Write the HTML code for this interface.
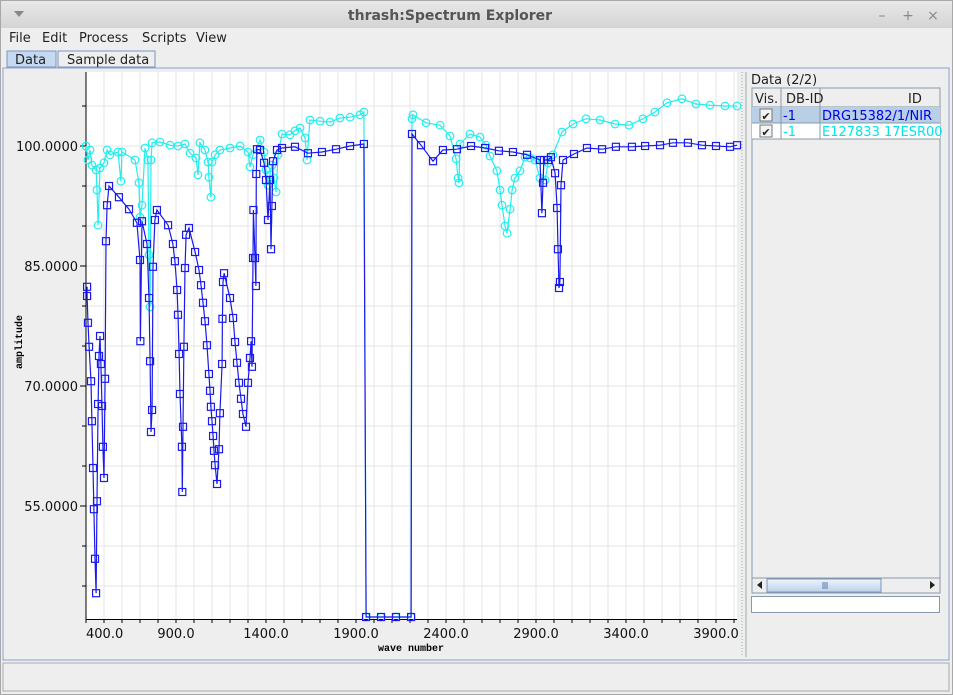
<!DOCTYPE html>
<html><head><meta charset="utf-8"><style>
body{margin:0;width:953px;height:695px;overflow:hidden;background:#eeeeee;font-family:"DejaVu Sans","Liberation Sans",sans-serif;}
svg{display:block}
</style></head><body>
<svg width="953" height="695" viewBox="0 0 953 695" xmlns="http://www.w3.org/2000/svg">
<defs>
<linearGradient id="tb" x1="0" y1="0" x2="0" y2="1"><stop offset="0" stop-color="#e8e8e8"/><stop offset="1" stop-color="#d4d4d4"/></linearGradient>
<linearGradient id="th" x1="0" y1="0" x2="0" y2="1"><stop offset="0" stop-color="#eef4fb"/><stop offset="1" stop-color="#bcd2ea"/></linearGradient>
</defs>
<rect x="0" y="0" width="953" height="695" fill="#a8a8a8"/>
<rect x="1" y="1" width="951" height="693" fill="#eeeeee"/>
<rect x="1" y="1" width="951" height="27" fill="url(#tb)"/>
<polygon points="14,11 24,11 19,17" fill="#888"/>
<text x="450" y="20" text-anchor="middle" font-size="14" font-weight="bold" fill="#555">thrash:Spectrum Explorer</text>
<text x="882" y="20" text-anchor="middle" font-size="14" fill="#888">–</text>
<text x="908" y="20" text-anchor="middle" font-size="14" fill="#888">+</text>
<text x="933" y="20" text-anchor="middle" font-size="14" fill="#888">×</text>
<g font-size="13" fill="#222">
<text x="9" y="42">File</text>
<text x="42" y="42">Edit</text>
<text x="79" y="42">Process</text>
<text x="142" y="42">Scripts</text>
<text x="196" y="42">View</text>
</g>
<rect x="7" y="51" width="49" height="16" fill="#c5daf0" stroke="#7a94c0"/>
<text x="15" y="64" font-size="13" fill="#222">Data</text>
<rect x="58" y="51" width="97" height="16" fill="#eeeeee" stroke="#7a94c0"/>
<text x="67" y="64" font-size="13" fill="#222">Sample data</text>
<rect x="3" y="68" width="946" height="592" fill="#eeeeee" stroke="#8aa4cc"/>
<rect x="86" y="72" width="651" height="547" fill="#ffffff"/>
<g id="grid"></g>
<g id="axes"></g>
<g id="series"></g>
<text x="411" y="651" text-anchor="middle" font-size="10" font-weight="bold" font-family="Liberation Mono, monospace" fill="#000">wave number</text>
<text transform="translate(22,342) rotate(-90)" text-anchor="middle" font-size="10" font-weight="bold" font-family="Liberation Mono, monospace" fill="#000">amplitude</text>
<line x1="742" y1="72" x2="742" y2="657" stroke="#9ab" stroke-dasharray="1,2"/>
<line x1="746" y1="72" x2="746" y2="657" stroke="#9aa" />
<text x="751" y="84" font-size="13" fill="#222">Data (2/2)</text>
<rect x="752" y="88" width="188" height="490" fill="#eeeeee" stroke="#8899aa"/>
<rect x="752" y="88" width="188" height="19" fill="#eeeeee" stroke="#8899aa"/>
<line x1="781" y1="88" x2="781" y2="139" stroke="#8899aa"/>
<line x1="820" y1="88" x2="820" y2="139" stroke="#8899aa"/>
<g font-size="13" fill="#222">
<text x="755" y="103">Vis.</text>
<text x="786" y="103">DB-ID</text>
<text x="908" y="103">ID</text>
</g>
<rect x="752" y="107" width="188" height="16" fill="#b8cfe5"/>
<rect x="752" y="123" width="188" height="16" fill="#ffffff"/>
<line x1="752" y1="123" x2="940" y2="123" stroke="#8899aa"/>
<line x1="752" y1="139" x2="940" y2="139" stroke="#8899aa"/>
<line x1="781" y1="107" x2="781" y2="139" stroke="#8899aa"/>
<line x1="820" y1="107" x2="820" y2="139" stroke="#8899aa"/>
<rect x="760" y="109" width="12" height="12" fill="#f4f4f4" stroke="#777"/>
<text x="766" y="120" text-anchor="middle" font-size="11" fill="#222">✔</text>
<rect x="760" y="125" width="12" height="12" fill="#f4f4f4" stroke="#777"/>
<text x="766" y="136" text-anchor="middle" font-size="11" fill="#222">✔</text>
<g font-size="13">
<text x="783" y="120" fill="#0000ee">-1</text>
<text x="822" y="120" fill="#0000ee">DRG15382/1/NIR</text>
<text x="783" y="136" fill="#00e5ee">-1</text>
<text x="822" y="136" fill="#00e5ee">E127833 17ESR00</text>
</g>
<rect x="752" y="578" width="188" height="15" fill="#eeeeee" stroke="#8899aa"/>
<rect x="767" y="579" width="114" height="13" fill="url(#th)" stroke="#7a94c0"/>
<line x1="823" y1="582" x2="823" y2="589" stroke="#5577aa"/><line x1="825" y1="582" x2="825" y2="589" stroke="#5577aa"/><line x1="827" y1="582" x2="827" y2="589" stroke="#5577aa"/>
<polygon points="757,585 762,581 762,589" fill="#222"/>
<polygon points="935,585 930,581 930,589" fill="#222"/>
<rect x="751.5" y="596.5" width="188" height="16" fill="#ffffff" stroke="#8899aa"/>
<rect x="3" y="663" width="946" height="28" fill="#eeeeee" stroke="#aaa"/>
</svg>
<script>
const xTicks = [400, 900, 1400, 1900, 2400, 2900, 3400, 3900];
const xTickLabels = ["400.0","900.0","1400.0","1900.0","2400.0","2900.0","3400.0","3900.0"];
const yTicks = [55, 70, 85, 100];
const yTickLabels = ["55.0000","70.0000","85.0000","100.0000"];
const blueX = [406,406,411,417,428,433,439,444,450,456,461,467,472,478,483,489,494,500,506,511,517,528,583,639,683,700,702,711,739,750,756,761,767,772,783,794,856,883,894,906,911,917,922,933,935,939,944,950,956,972,1006,1028,1039,1050,1061,1072,1083,1089,1094,1100,1106,1111,1117,1128,1139,1144,1156,1158,1161,1167,1200,1217,1228,1239,1250,1261,1272,1289,1300,1311,1317,1322,1328,1330,1339,1344,1346,1350,1367,1389,1400,1411,1422,1428,1433,1439,1461,1489,1561,1633,1711,1789,1867,1944,1956,2039,2122,2206,2211,2261,2328,2383,2461,2539,2617,2694,2772,2850,2922,2933,2939,2944,2967,2983,3006,3017,3022,3028,3033,3039,3050,3111,3183,3267,3344,3433,3506,3589,3661,3744,3822,3900,3978,4017];
const blueY = [82.4,81.25,77.9,74.9,70.6,65.6,59.75,54.6,48.4,44.1,55.6,67.75,73.75,76.25,72.75,67.5,62.4,58.5,70.9,88.1,92.6,95,93.6,92.1,90.4,85.75,75.6,90.6,87.75,81,73.1,64.25,67,84.9,90.75,92,90.1,87.75,85.6,82,78.9,74,69,62.4,56.75,64.9,74.9,84.75,88.9,89.75,86.75,84.5,82.6,80.4,78.1,75.1,71.5,69.4,67.4,65.6,63.75,61.9,60.1,57.75,62.1,66.6,72.75,78.4,83,84.1,81,78.5,75.5,72.9,70.4,68.4,66.5,64.9,70.4,73.5,75.6,72.4,86,92,86,82.5,96.5,99.6,99.5,97.9,95.75,90.75,95.75,87.1,92.5,98.1,99.5,99.75,99.9,99.1,99.25,99.6,100,100.25,41.1,41.1,41.1,41.1,101.5,100.1,98.1,99.5,99.6,100,99.75,99.4,99.25,98.9,98.25,91.6,95.4,98.25,98.25,98.6,96.6,92.25,87.1,82.25,83,95.1,98.25,99,99.75,99.6,99.9,99.9,100,100.1,100.4,100.4,100.1,100,99.9,100.1];
const cyanX = [400,411,422,433,456,461,467,478,500,517,533,578,594,600,672,694,700,711,728,744,750,756,761,767,811,867,911,950,978,1011,1022,1033,1061,1078,1083,1094,1100,1117,1144,1200,1256,1300,1311,1328,1367,1389,1400,1411,1422,1433,1444,1456,1467,1489,1533,1561,1589,1617,1628,1644,1700,1756,1811,1867,1922,1944,1956,2039,2122,2206,2211,2217,2289,2367,2422,2456,2467,2472,2478,2533,2589,2622,2644,2683,2700,2711,2728,2739,2756,2767,2783,2811,2839,2867,2894,2922,2950,2967,2994,3044,3106,3178,3256,3339,3417,3494,3561,3628,3711,3789,3867,3950,4017];
const cyanY = [100,98.25,99.5,97.6,97,94.5,90.1,97.25,97.9,99.5,98.9,99.25,95.6,99.25,98.25,95.4,91.1,92.6,99.75,98.25,86.4,79.9,98.25,100.4,100.5,100.1,100,100.25,99.1,98.5,96.4,100.4,99.5,98,96.1,93.6,98,98.9,99.5,99.75,100,99.25,97.4,98.9,100.75,99.25,97,95.1,96.4,97.6,96,94.25,98.9,101.5,101.4,101.9,102.25,101,98.25,103.25,103.1,103,103.5,103.6,103.9,104.25,41.1,41.1,41.1,41.1,103.4,103.9,102.9,102.6,101.25,98.4,96,95.4,100.25,101.5,101.1,100.1,98.75,96.9,94.5,92.6,90,89.1,92.1,94.5,96,96.9,98.6,98.5,98.25,96,95.75,97.9,98.9,101.75,102.75,103.4,103.25,102.75,102.6,103.4,104.25,105.4,105.9,105.25,105.1,105,105];

const NS = 'http://www.w3.org/2000/svg';
const PL = 86, PR = 737, PT = 72, PB = 619;
function sx(v){ return PL + (v - 400) * 0.18; }
function sy(v){ return 146 - (v - 100) * 8; }
function mk(tag, attrs, parent){ const e = document.createElementNS(NS, tag); for (const k in attrs) e.setAttribute(k, attrs[k]); parent.appendChild(e); return e; }
const grid = document.getElementById('grid'), axes = document.getElementById('axes'), series = document.getElementById('series');
for (let v = 400; sx(v) <= PR; v += 100) {
  const l = mk('line', {x1:sx(v), x2:sx(v), y1:PT, y2:PB, stroke:'#e6e6e6'}, grid);
  
  
}
for (let v = 105; sy(v) <= PB; v -= 5) {
  const l = mk('line', {x1:PL, x2:PR, y1:sy(v), y2:sy(v), stroke:'#e6e6e6'}, grid);
  
  
}
mk('line', {x1:PL, x2:PL, y1:PT, y2:PB+1, stroke:'#000'}, axes);
mk('line', {x1:PL, x2:PR, y1:PB+0.5, y2:PB+0.5, stroke:'#000'}, axes);
for (let v = 400; sx(v) <= PR; v += 100) mk('line', {x1:sx(v), x2:sx(v), y1:PB, y2:PB+4, stroke:'#000'}, axes);
for (let v = 105; sy(v) <= PB; v -= 5) mk('line', {x1:PL-4, x2:PL, y1:sy(v), y2:sy(v), stroke:'#000'}, axes);
xTicks.forEach((v, i) => {
  const first = i === 0;
  const t = mk('text', {x: first ? PL : sx(v), y:PB+19, 'font-size':13, fill:'#111', 'text-anchor': first ? 'start' : 'middle'}, axes);
  t.textContent = xTickLabels[i];
  
  
});
yTicks.forEach((v, i) => {
  const t = mk('text', {x:PL-8, y:sy(v)+5, 'font-size':13, fill:'#111', 'text-anchor':'end'}, axes);
  t.textContent = yTickLabels[i];
  
  
  mk('line', {x1:PL-6, x2:PL, y1:sy(v), y2:sy(v), stroke:'#000'}, axes);
});
function clampY(v){ return Math.min(PB - 2, sy(v)); }
function drawSeries(xs, ys, color, kind, name){
  const g = mk('g', {}, series);
  
  
  const pts = xs.map((x, i) => sx(x).toFixed(1) + ',' + clampY(ys[i]).toFixed(1)).join(' ');
  const pl = mk('polyline', {points:pts, fill:'none', stroke:color, 'stroke-width':1.2}, g);
  
  
  xs.forEach((x, i) => {
    const cx = sx(x), cy = clampY(ys[i]);
    let m;
    if (kind === 'square') m = mk('rect', {x:cx-3.5, y:cy-3.5, width:7, height:7, fill:'none', stroke:color, 'stroke-width':1.2}, g);
    else m = mk('circle', {cx:cx, cy:cy, r:3.8, fill:'none', stroke:color, 'stroke-width':1.2}, g);
    
    
  });
}
drawSeries(cyanX, cyanY, '#22eeee', 'circle', 'series-e127833');
drawSeries(blueX, blueY, '#1a1aee', 'square', 'series-drg15382');
</script>
</body></html>
